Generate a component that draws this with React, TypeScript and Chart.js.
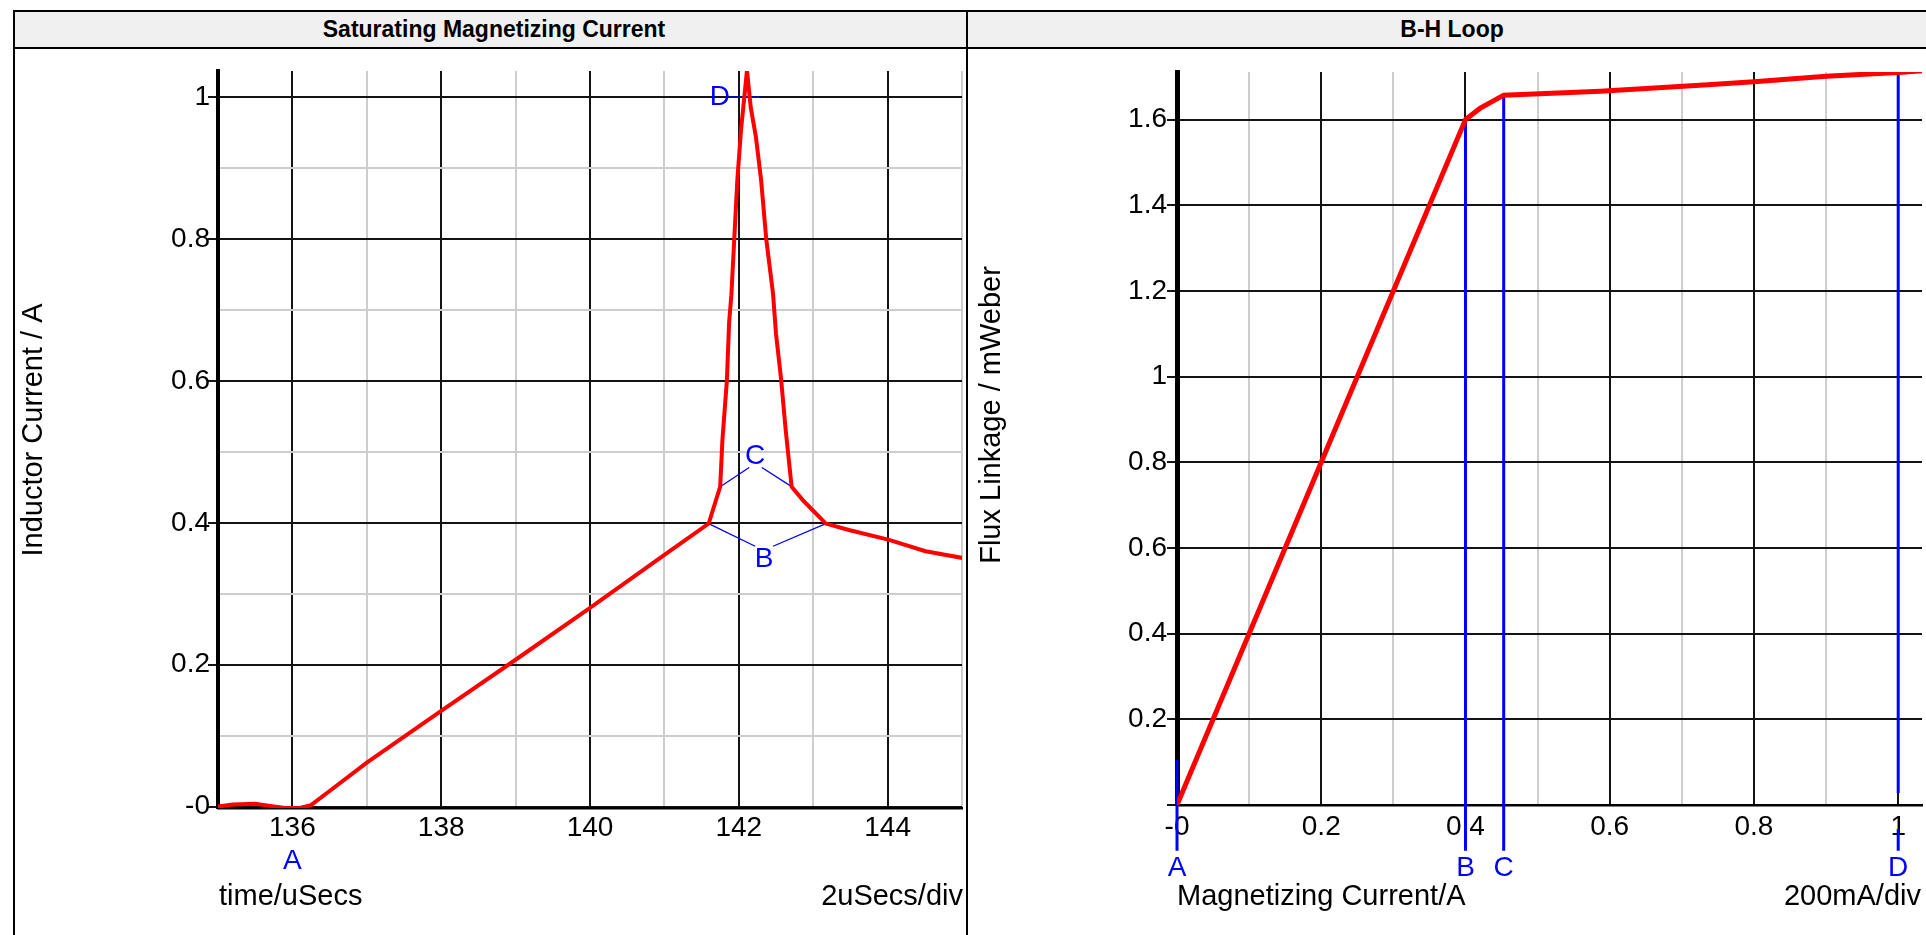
import React, { useEffect, useRef } from 'react';
import { Chart, registerables } from 'chart.js';

Chart.register(...registerables);

const FONT = "'Liberation Sans', Arial, Helvetica, sans-serif";

// ---------- Left chart: Saturating Magnetizing Current ----------
const TIME_US = [135.0, 135.2, 135.5, 135.7, 135.9, 136.1, 136.25, 136.5, 137.0, 138.0, 139.0, 140.0, 141.0, 141.595, 141.75, 141.78, 141.84, 141.87, 141.9, 141.98, 142.03, 142.11, 142.16, 142.23, 142.3, 142.37, 142.46, 142.5, 142.57, 142.63, 142.71, 142.86, 143.01, 143.17, 143.48, 144.02, 144.51, 145.03];
const INDUCTOR_CURRENT_A = [0.0, 0.003, 0.004, 0.001, -0.002, -0.002, 0.002, 0.022, 0.062, 0.135, 0.207, 0.28, 0.355, 0.399, 0.451, 0.517, 0.601, 0.683, 0.721, 0.883, 0.954, 1.038, 0.986, 0.944, 0.883, 0.799, 0.723, 0.667, 0.601, 0.531, 0.451, 0.432, 0.416, 0.399, 0.39, 0.376, 0.36, 0.35];

const TIME_TICKS = [135, 136, 137, 138, 139, 140, 141, 142, 143, 144, 145];
const TIME_TICK_LABELS = ['', '136', '', '138', '', '140', '', '142', '', '144', ''];
const CURRENT_TICKS = [0, 0.1, 0.2, 0.3, 0.4, 0.5, 0.6, 0.7, 0.8, 0.9, 1.0];
const CURRENT_TICK_LABELS = ['-0', '', '0.2', '', '0.4', '', '0.6', '', '0.8', '', '1'];

// cursor segments on the time plot (x, y pairs)
const CURSOR_B_LEFT = [[141.595, 0.399], [142.22, 0.367]];
const CURSOR_B_RIGHT = [[142.46, 0.367], [143.17, 0.399]];
const CURSOR_C_LEFT = [[141.75, 0.451], [142.14, 0.478]];
const CURSOR_C_RIGHT = [[142.31, 0.478], [142.71, 0.451]];
const CURSOR_D_LINE = [[141.87, 1.0], [142.3, 1.0]];
const CURSOR_NAMES = ['A', 'B', 'C', 'D'];
const TIME_CURSOR_LABEL_X = [136.0, 142.34, 142.22, 141.745];
const TIME_CURSOR_LABEL_Y = [-0.077, 0.348, 0.494, 1.0];

// ---------- Right chart: B-H Loop ----------
const MAG_CURRENT_A = [0, 0.2, 0.4, 0.42, 0.453, 0.587, 0.725, 0.8, 0.9, 1.0, 1.04];
const FLUX_MWB = [0, 0.8, 1.6, 1.626, 1.657, 1.666, 1.68, 1.688, 1.701, 1.71, 1.715];

const MAG_TICKS = [0, 0.1, 0.2, 0.3, 0.4, 0.5, 0.6, 0.7, 0.8, 0.9, 1.0];
const MAG_TICK_LABELS = ['-0', '', '0.2', '', '0.4', '', '0.6', '', '0.8', '', '1'];
const FLUX_TICKS = [0, 0.2, 0.4, 0.6, 0.8, 1.0, 1.2, 1.4, 1.6];
const FLUX_TICK_LABELS = ['', '0.2', '0.4', '0.6', '0.8', '1', '1.2', '1.4', '1.6'];

const BH_CURSOR_X = [0, 0.4, 0.453, 1.0];
const BH_CURSOR_TOP = [0.105, 1.6, 1.657, 1.71];
const BH_CURSOR_BOTTOM = -0.107;
const BH_CURSOR_D_GAP = [0.028, -0.056];
const BH_CURSOR_LABEL_Y = -0.148;

const RED = '#ff0000';
const BLUE = '#0000ff';
const MAJOR = '#141414';
const MINOR = '#cdcdcd';

type Pt = { x: number; y: number };
const toPts = (xs: number[], ys: number[]): Pt[] => xs.map((x, i) => ({ x, y: ys[i] }));
const segPts = (seg: number[][]): Pt[] => seg.map(([x, y]) => ({ x, y }));

interface TextCfg {
  yTitle: string;
  yTitleX: number;
  yTitleY: number;
  xTitle: string;
  xDiv: string;
  xTitleBaseline: number;
  xTitleDx: number;
  xDivDx: number;
  labels: { name: string; x: number; y: number }[];
}

function makeTextPlugin(cfg: TextCfg) {
  return {
    id: 'panelText',
    afterDatasetsDraw(chart: any) {
      const { ctx, chartArea } = chart;
      const xs = chart.scales.x;
      const ys = chart.scales.y;
      ctx.save();
      ctx.font = `29px ${FONT}`;
      ctx.fillStyle = '#000';
      // y title (rotated)
      ctx.save();
      ctx.translate(cfg.yTitleX, cfg.yTitleY);
      ctx.rotate(-Math.PI / 2);
      ctx.textAlign = 'center';
      ctx.textBaseline = 'alphabetic';
      ctx.fillText(cfg.yTitle, 0, 0);
      ctx.restore();
      // x titles
      ctx.textBaseline = 'alphabetic';
      ctx.textAlign = 'left';
      ctx.fillText(cfg.xTitle, chartArea.left + cfg.xTitleDx, cfg.xTitleBaseline);
      ctx.textAlign = 'right';
      ctx.fillText(cfg.xDiv, chartArea.right + cfg.xDivDx, cfg.xTitleBaseline);
      // cursor labels
      ctx.font = `28px ${FONT}`;
      ctx.fillStyle = BLUE;
      ctx.textAlign = 'center';
      ctx.textBaseline = 'middle';
      cfg.labels.forEach((l) => {
        ctx.fillText(l.name, xs.getPixelForValue(l.x), ys.getPixelForValue(l.y));
      });
      ctx.restore();
    },
  };
}

interface AxisCfg {
  min: number;
  max: number;
  ticks: number[];
  labels: string[];
  isMajor: (i: number) => boolean;
}

function buildOptions(
  xa: AxisCfg,
  ya: AxisCfg,
  pad: { top: number; right: number },
  yWidth: number,
  xHeight: number,
  yBorder: number,
  xBorder: number,
  yPad: number,
  xPad: number
) {
  const tickFont = { family: FONT, size: 28 };
  return {
    responsive: false,
    animation: false as const,
    devicePixelRatio: 1,
    events: [],
    layout: { padding: { left: 0, right: pad.right, top: pad.top, bottom: 0 } },
    plugins: {
      legend: { display: false },
      tooltip: { enabled: false },
      title: { display: false },
    },
    elements: { point: { radius: 0 }, line: { tension: 0 } },
    scales: {
      x: {
        type: 'linear' as const,
        min: xa.min,
        max: xa.max,
        afterBuildTicks: (s: any) => {
          s.ticks = xa.ticks.map((v) => ({ value: v }));
        },
        afterFit: (s: any) => {
          s.height = xHeight;
        },
        ticks: {
          autoSkip: false,
          maxRotation: 0,
          minRotation: 0,
          padding: xPad,
          color: '#000',
          font: tickFont,
          callback: (_v: any, i: number) => xa.labels[i],
        },
        grid: {
          drawTicks: false,
          color: (c: any) => (xa.isMajor(c.index) ? MAJOR : MINOR),
          lineWidth: 2,
        },
        border: { display: true, color: '#000', width: xBorder },
      },
      y: {
        type: 'linear' as const,
        min: ya.min,
        max: ya.max,
        afterBuildTicks: (s: any) => {
          s.ticks = ya.ticks.map((v) => ({ value: v }));
        },
        afterFit: (s: any) => {
          s.width = yWidth;
        },
        ticks: {
          autoSkip: false,
          padding: yPad,
          color: '#000',
          font: tickFont,
          callback: (_v: any, i: number) => ya.labels[i],
        },
        grid: {
          drawTicks: true,
          tickLength: 10,
          color: (c: any) => (ya.isMajor(c.index) ? MAJOR : MINOR),
          tickColor: (c: any) => (ya.isMajor(c.index) ? MAJOR : 'rgba(0,0,0,0)'),
          lineWidth: 2,
        },
        border: { display: true, color: '#000', width: yBorder },
      },
    },
  };
}

function thinBlue(seg: number[][]) {
  return {
    data: segPts(seg),
    borderColor: BLUE,
    borderWidth: 1.3,
    pointRadius: 0,
    fill: false,
  };
}

function blueCursor(x: number, yTop: number, yBottom: number) {
  return {
    data: [
      { x, y: yTop },
      { x, y: yBottom },
    ],
    borderColor: BLUE,
    borderWidth: 3,
    pointRadius: 0,
    fill: false,
    clip: false,
  };
}

export default function App() {
  const leftRef = useRef<HTMLCanvasElement>(null);
  const rightRef = useRef<HTMLCanvasElement>(null);

  useEffect(() => {
    Chart.defaults.font.family = FONT;

    const leftCfg: any = {
      type: 'line',
      data: {
        datasets: [
          {
            data: toPts(TIME_US, INDUCTOR_CURRENT_A),
            borderColor: RED,
            borderWidth: 4,
            pointRadius: 0,
            fill: false,
          },
          thinBlue(CURSOR_B_LEFT),
          thinBlue(CURSOR_B_RIGHT),
          thinBlue(CURSOR_C_LEFT),
          thinBlue(CURSOR_C_RIGHT),
          thinBlue(CURSOR_D_LINE),
        ],
      },
      options: buildOptions(
        {
          min: 135,
          max: 145,
          ticks: TIME_TICKS,
          labels: TIME_TICK_LABELS,
          isMajor: (i) => TIME_TICK_LABELS[i] !== '',
        },
        {
          min: -0.002,
          max: 1.037,
          ticks: CURRENT_TICKS,
          labels: CURRENT_TICK_LABELS,
          isMajor: (i) => CURRENT_TICK_LABELS[i] !== '',
        },
        { top: 21, right: 2 },
        202,
        127,
        4,
        2.5,
        -2,
        3
      ),
      plugins: [
        makeTextPlugin({
          yTitle: 'Inductor Current / A',
          yTitleX: 26,
          yTitleY: 380,
          xTitle: 'time/uSecs',
          xDiv: '2uSecs/div',
          xTitleBaseline: 855,
          xTitleDx: 1,
          xDivDx: 1,
          labels: CURSOR_NAMES.map((name, i) => ({
            name,
            x: TIME_CURSOR_LABEL_X[i],
            y: TIME_CURSOR_LABEL_Y[i],
          })),
        }),
      ],
    };

    const bhCursorSets: any[] = [];
    BH_CURSOR_X.forEach((x, i) => {
      if (CURSOR_NAMES[i] === 'D') {
        bhCursorSets.push(blueCursor(x, BH_CURSOR_TOP[i], BH_CURSOR_D_GAP[0]));
        bhCursorSets.push(blueCursor(x, BH_CURSOR_D_GAP[1], BH_CURSOR_BOTTOM));
      } else {
        bhCursorSets.push(blueCursor(x, BH_CURSOR_TOP[i], BH_CURSOR_BOTTOM));
      }
    });

    const rightCfg: any = {
      type: 'line',
      data: {
        datasets: [
          {
            data: toPts(MAG_CURRENT_A, FLUX_MWB),
            borderColor: RED,
            borderWidth: 5,
            pointRadius: 0,
            fill: false,
          },
          ...bhCursorSets,
        ],
      },
      options: buildOptions(
        {
          min: 0,
          max: 1.033,
          ticks: MAG_TICKS,
          labels: MAG_TICK_LABELS,
          isMajor: (i) => MAG_TICK_LABELS[i] !== '',
        },
        {
          min: 0,
          max: 1.711,
          ticks: FLUX_TICKS,
          labels: FLUX_TICK_LABELS,
          isMajor: () => true,
        },
        { top: 22, right: 4 },
        208,
        130,
        5,
        2.5,
        0,
        5
      ),
      plugins: [
        makeTextPlugin({
          yTitle: 'Flux Linkage / mWeber',
          yTitleX: 31,
          yTitleY: 365,
          xTitle: 'Magnetizing Current/A',
          xDiv: '200mA/div',
          xTitleBaseline: 855,
          xTitleDx: 0,
          xDivDx: -1,
          labels: CURSOR_NAMES.map((name, i) => ({
            name,
            x: BH_CURSOR_X[i],
            y: BH_CURSOR_LABEL_Y,
          })),
        }),
      ],
    };

    const left = new Chart(leftRef.current as HTMLCanvasElement, leftCfg);
    const right = new Chart(rightRef.current as HTMLCanvasElement, rightCfg);
    return () => {
      left.destroy();
      right.destroy();
    };
  }, []);

  const abs = (l: number, t: number, w: number, h: number, extra: any = {}) => ({
    position: 'absolute' as const,
    left: l,
    top: t,
    width: w,
    height: h,
    ...extra,
  });

  const titleStyle = {
    fontFamily: FONT,
    fontWeight: 'bold' as const,
    fontSize: 23,
    lineHeight: '35px',
    textAlign: 'center' as const,
    color: '#000',
    whiteSpace: 'nowrap' as const,
  };

  return (
    <div style={abs(0, 0, 1926, 935, { overflow: 'hidden', background: '#fff' })}>
      <div style={abs(15, 12, 1911, 35, { background: '#f0f0f0' })} />
      <div style={abs(13, 10, 1913, 2, { background: '#000' })} />
      <div style={abs(13, 47, 1913, 2, { background: '#000' })} />
      <div style={abs(13, 10, 2, 925, { background: '#000' })} />
      <div style={abs(966, 10, 2, 925, { background: '#000' })} />
      <div style={abs(15, 12, 958, 35, titleStyle)}>Saturating Magnetizing Current</div>
      <div style={abs(968, 12, 958, 35, { ...titleStyle, paddingLeft: 10, boxSizing: 'border-box' })}>B-H Loop</div>
      <canvas ref={leftRef} width={949} height={885} style={abs(16, 50, 949, 885)} />
      <canvas ref={rightRef} width={957} height={885} style={abs(969, 50, 957, 885)} />
    </div>
  );
}
